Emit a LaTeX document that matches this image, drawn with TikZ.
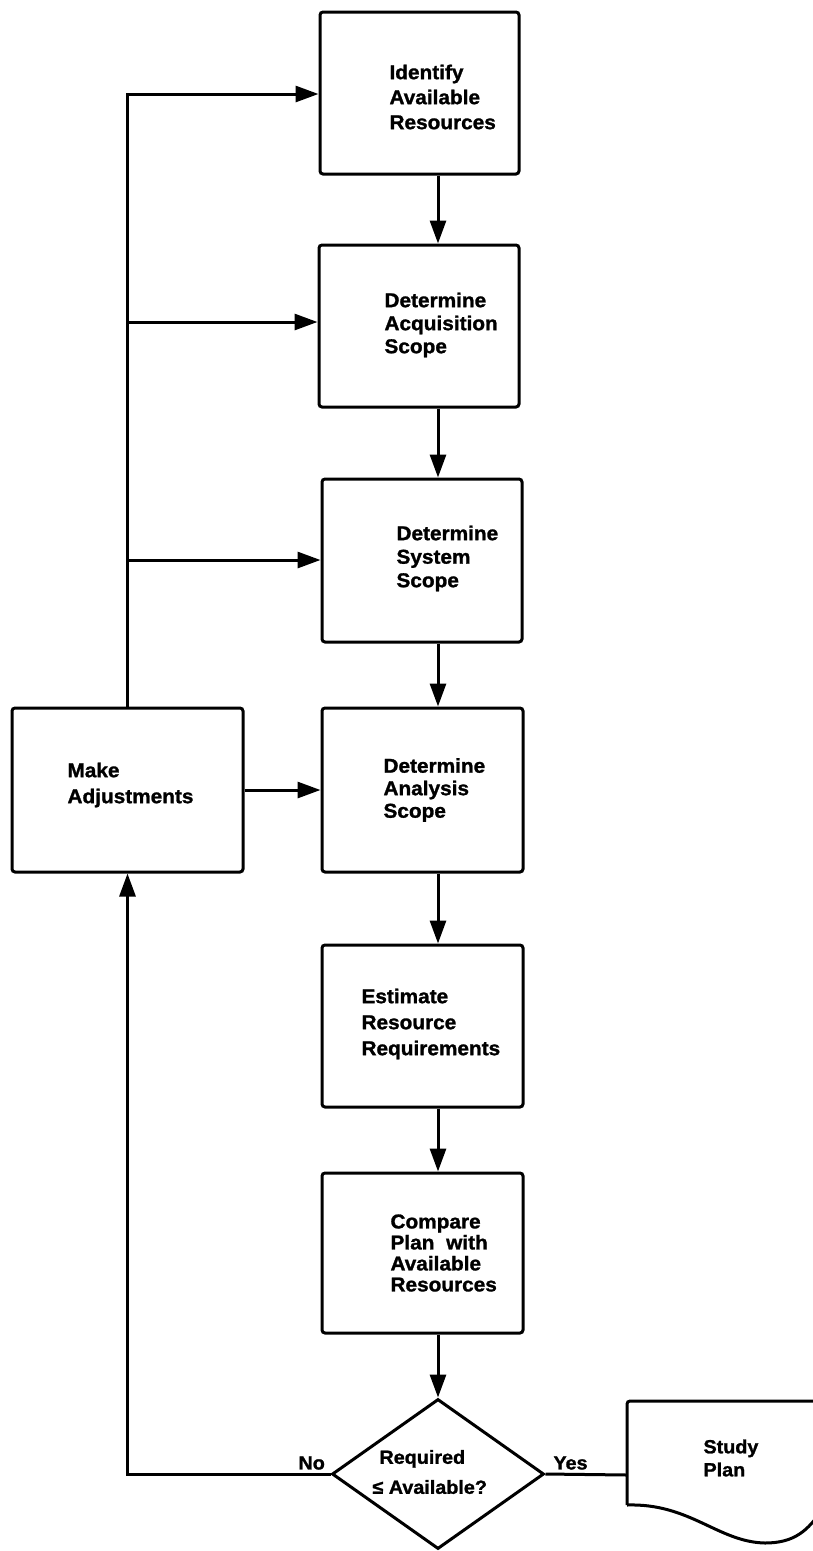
\documentclass[tikz,border=0pt]{standalone}
\usepackage{fontspec}
\setmainfont{Liberation Sans}[BoldFeatures={FakeBold=1.3,FakeStretch=1.04}]
\usetikzlibrary{arrows.meta,shapes.geometric}
\begin{document}
\begin{tikzpicture}[x=1pt,y=-1pt,
  line width=3pt,
  box/.style={draw, rounded corners=3pt, inner sep=0pt},
  lbl/.style={anchor=west, align=left, inner sep=0pt,
    font=\bfseries\fontsize{20}{24}\selectfont},
  flow/.style={-{Triangle[length=23pt,width=16pt]}},
]
\useasboundingbox (0,0) rectangle (813,1551);

% process boxes of the main column
\node[box, minimum width=199pt, minimum height=162pt] (b1) at (419.5,93) {};
\node[box, minimum width=200pt, minimum height=162pt] (b2) at (419,326) {};
\node[box, minimum width=200pt, minimum height=163pt] (b3) at (422,560.5) {};
\node[box, minimum width=201pt, minimum height=164pt] (b4) at (422.5,790) {};
\node[box, minimum width=201pt, minimum height=162pt] (b5) at (422.5,1026) {};
\node[box, minimum width=201pt, minimum height=160pt] (b6) at (422.5,1253) {};
% adjustment box on the left
\node[box, minimum width=231pt, minimum height=164pt] (ma) at (127.5,790) {};
% decision
\node[draw, diamond, minimum width=212pt, minimum height=150pt, inner sep=0pt] (dec) at (438,1474) {};

% box texts
\node[lbl, font=\bfseries\fontsize{20}{25}\selectfont] (l1) at (388,97) {Identify\\Available\\Resources};
\node[lbl, font=\bfseries\fontsize{20}{23}\selectfont] (l2) at (383,325) {Determine\\Acquisition\\Scope};
\node[lbl, font=\bfseries\fontsize{20}{23.5}\selectfont] (l3) at (395,558.5) {Determine\\System\\Scope};
\node[lbl, font=\bfseries\fontsize{20}{22.5}\selectfont] (l4) at (382,790) {Determine\\Analysis\\Scope};
\node[lbl, font=\bfseries\fontsize{20}{26}\selectfont] (l5) at (360,1024) {Estimate\\Resource\\Requirements};
\node[lbl, font=\bfseries\fontsize{20}{21}\selectfont] (l6) at (389,1253) {Compare\\Plan\hspace{6pt} with\\Available\\Resources};
\node[lbl, font=\bfseries\fontsize{20}{26}\selectfont] (lm) at (66,785) {Make\\Adjustments};
\node[lbl, font=\bfseries\fontsize{19}{30}\selectfont] (ld) at (371,1472) {\hspace{7pt}Required\\≤ Available?};
\node[lbl, font=\bfseries\fontsize{19}{23}\selectfont] (ls) at (702,1458) {Study\\Plan};
\node[lbl, font=\bfseries\fontsize{19}{23}\selectfont] (lno) at (297,1463) {No};
\node[lbl, font=\bfseries\fontsize{19}{23}\selectfont] (lyes) at (552,1463) {Yes};

% study plan document shape
\coordinate (sp) at (627,1475);
\draw[rounded corners=3pt] (840,1401) -- (627,1401) -- (627,1505);
\draw (627,1505) .. controls (690,1503) and (718,1542) .. (765,1543)
  .. controls (795,1543) and (808,1530) .. (822,1510);

% main column connectors
\coordinate (ax) at (438,0);
\draw[flow] (ax |- b1.south) -- (ax |- b2.north);
\draw[flow] (ax |- b2.south) -- (ax |- b3.north);
\draw[flow] (ax |- b3.south) -- (ax |- b4.north);
\draw[flow] (ax |- b4.south) -- (ax |- b5.north);
\draw[flow] (ax |- b5.south) -- (ax |- b6.north);
\draw[flow] (ax |- b6.south) -- (dec.north);

% feedback bus from the adjustment box
\coordinate (t1) at (127.5,94);
\coordinate (t2) at (127.5,322);
\coordinate (t3) at (127.5,560);
\draw[flow] (ma.north) -- (t1) -- (t1 -| b1.west);
\draw[flow] (t2) -- (t2 -| b2.west);
\draw[flow] (t3) -- (t3 -| b3.west);
\draw[flow] (ma.east) -- (b4.west);

% decision outcomes
\draw[flow] (dec.west) -- (dec.west -| ma.south) -- (ma.south);
\draw (dec.east) -- (sp);
\end{tikzpicture}
\end{document}
